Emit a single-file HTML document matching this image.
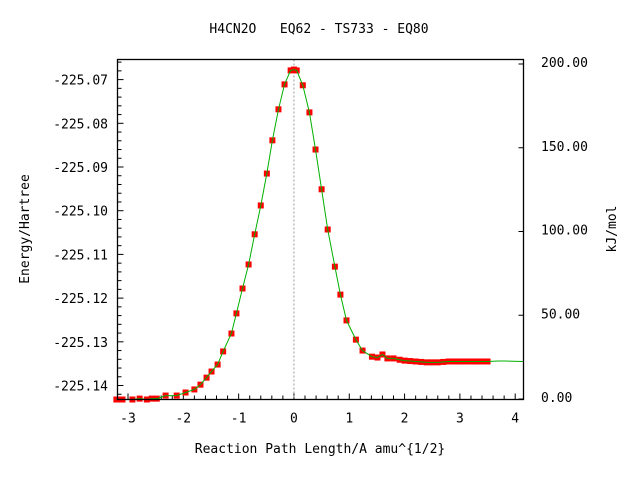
<!DOCTYPE html>
<html><head><meta charset="utf-8"><style>
html,body{margin:0;padding:0;background:#fff;}
svg{display:block;font-family:"DejaVu Sans Mono","Liberation Mono",monospace;}
</style></head><body>
<svg id="chart" width="640" height="480" viewBox="0 0 640 480" xmlns="http://www.w3.org/2000/svg">
<text x="319" y="33" font-size="13" text-anchor="middle" xml:space="preserve">H4CN2O   EQ62 - TS733 - EQ80</text>
<g id="axes"></g>
<g id="marks"></g>
<rect x="117.5" y="59.5" width="406" height="340" fill="none" stroke="#000" stroke-width="1.3"/>
<text x="320" y="453" font-size="13" text-anchor="middle">Reaction Path Length/A amu^{1/2}</text>
<text transform="translate(29,229) rotate(-90)" font-size="13" text-anchor="middle">Energy/Hartree</text>
<text transform="translate(616,229) rotate(-90)" font-size="13" text-anchor="middle">kJ/mol</text>
</svg>
<script>
const xTicks = [-3,-2,-1,0,1,2,3,4];
const xTickLabels = ["-3","-2","-1","0","1","2","3","4"];
const yTicks = [-225.07,-225.08,-225.09,-225.10,-225.11,-225.12,-225.13,-225.14];
const yTickLabels = ["-225.07","-225.08","-225.09","-225.10","-225.11","-225.12","-225.13","-225.14"];
const y2Ticks = [0,50,100,150,200];
const y2TickLabels = ["0.00","50.00","100.00","150.00","200.00"];
const pathX = [-3.21,-3.15,-3.10,-2.92,-2.79,-2.66,-2.57,-2.48,-2.32,-2.12,-1.96,-1.80,-1.69,-1.58,-1.49,-1.38,-1.28,-1.13,-1.04,-0.93,-0.82,-0.71,-0.60,-0.49,-0.39,-0.28,-0.17,-0.06,0.00,0.05,0.16,0.28,0.39,0.50,0.61,0.74,0.84,0.95,1.12,1.24,1.41,1.51,1.60,1.69,1.80,1.91,2.0,2.1,2.2,2.3,2.4,2.5,2.6,2.7,2.8,2.9,3.0,3.1,3.2,3.3,3.4,3.5];
const energy = [-225.1432,-225.1432,-225.1432,-225.1432,-225.1430,-225.1432,-225.1430,-225.1430,-225.1423,-225.1423,-225.1416,-225.1409,-225.1398,-225.1382,-225.1368,-225.1352,-225.1322,-225.1281,-225.1235,-225.1178,-225.1123,-225.1054,-225.0988,-225.0915,-225.0839,-225.0768,-225.0711,-225.0679,-225.0677,-225.0679,-225.0713,-225.0775,-225.0860,-225.0951,-225.1043,-225.1128,-225.1192,-225.1251,-225.1295,-225.1320,-225.1334,-225.1336,-225.1329,-225.1338,-225.1338,-225.1341,-225.1343,-225.1344,-225.1345,-225.1346,-225.1347,-225.1347,-225.1347,-225.1346,-225.1345,-225.1345,-225.1345,-225.1345,-225.1345,-225.1345,-225.1345,-225.1345];
const tailX = [3.7,3.8,4.14];
const tailE = [-225.1344,-225.1344,-225.1345];

const NS="http://www.w3.org/2000/svg";
const L=117.5,R=523.5,T=59.5,B=399.5;
const xMin=-3.19,xMax=4.15,yTop=-225.0654,yBot=-225.1432;
function sx(v){return L+(v-xMin)/(xMax-xMin)*(R-L);}
function sy(v){return T+(yTop-v)/(yTop-yBot)*(B-T);}
function sy2(k){return 64+(200-k)*1.675;}
function mk(tag,attrs,parent){const e=document.createElementNS(NS,tag);for(const k in attrs)e.setAttribute(k,attrs[k]);parent.appendChild(e);return e;}
const ax=document.getElementById('axes'),mg=document.getElementById('marks');

for(let v=-3.0;v<=4.11;v+=0.2){
  const x=sx(v);const major=Math.abs(v-Math.round(v))<1e-6;const len=major?6:4;
  const t=mk('line',{x1:x,x2:x,y1:B,y2:B-len,stroke:'#000'},ax);
  
  
}
xTicks.forEach((v,i)=>{
  const t=mk('text',{x:sx(v),y:B+23,'font-size':13,'text-anchor':'middle'},ax);t.textContent=xTickLabels[i];
  
  
});
for(let v=-225.066;v>=-225.143;v-=0.002){
  const y=sy(v);const major=Math.abs(v*100-Math.round(v*100))<1e-3;const len=major?6:4;
  const t=mk('line',{x1:L,x2:L+len,y1:y,y2:y,stroke:'#000'},ax);
  
  
}
yTicks.forEach((v,i)=>{
  const t=mk('text',{x:108,y:sy(v)+5,'font-size':13,'text-anchor':'end'},ax);t.textContent=yTickLabels[i];
  
  
});
y2Ticks.forEach((v,i)=>{
  const y=sy2(v);
  const t=mk('line',{x1:R,x2:R-5,y1:y,y2:y,stroke:'#000'},ax);
  
  
  const l=mk('text',{x:541,y:y+3,'font-size':13},ax);l.textContent=y2TickLabels[i];
  
  
});
const ts=mk('line',{x1:sx(0),x2:sx(0),y1:T,y2:B,stroke:'#999','stroke-dasharray':'2,2'},mg);


const allX=pathX.concat(tailX),allE=energy.concat(tailE);
const pts=allX.map((x,i)=>sx(x).toFixed(1)+','+sy(allE[i]).toFixed(1)).join(' ');
const pl=mk('polyline',{points:pts,fill:'none',stroke:'#00b000','stroke-width':1},mg);


pathX.forEach((x,i)=>{
  const r=mk('rect',{x:sx(x)-3,y:sy(energy[i])-3,width:6,height:6,fill:'#ff0000'},mg);
  
  
});
mg.appendChild(pl);
</script>
</body></html>
